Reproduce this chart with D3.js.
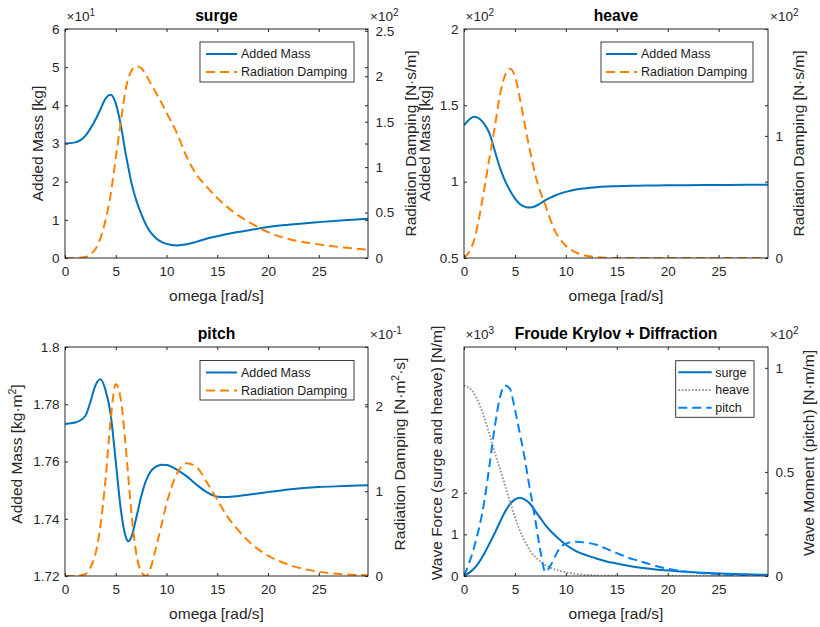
<!DOCTYPE html>
<html>
<head>
<meta charset="utf-8">
<script src="https://cdn.jsdelivr.net/npm/d3@7"></script>
<style>
  html, body { margin: 0; padding: 0; background: #fff; }
  svg { display: block; font-family: "Liberation Sans", Arial, Helvetica, sans-serif; }
</style>
</head>
<body>
<svg id="fig" width="820" height="627"></svg>
<script>
// ---------------------------------------------------------------------------
// Frequency grid [rad/s] shared by every series
const omega = [0, 1, 2, 2.5, 3, 3.5, 4, 4.5, 5, 5.5, 6, 6.25, 6.5, 7, 7.5, 8, 8.5, 9, 9.5, 10,
               11, 12, 13, 14, 15, 16, 17, 18, 20, 22, 25, 27.5, 29.85];

// Surge: added mass [x10 kg], radiation damping [x100 N·s/m]
const surgeAddedMass = [3.00, 3.03, 3.20, 3.39, 3.62, 3.90, 4.18, 4.28, 4.05, 3.48, 2.70, 2.36, 2.02, 1.53, 1.16, 0.86, 0.65, 0.51, 0.42, 0.37,
                        0.33, 0.36, 0.43, 0.51, 0.57, 0.63, 0.68, 0.72, 0.81, 0.87, 0.94, 0.99, 1.03];
const surgeDamping   = [0, 0, 0.01, 0.04, 0.10, 0.22, 0.42, 0.70, 1.10, 1.50, 1.87, 1.98, 2.05, 2.11, 2.09, 2.01, 1.91, 1.81, 1.71, 1.60,
                        1.38, 1.11, 0.91, 0.78, 0.66, 0.56, 0.475, 0.405, 0.285, 0.21, 0.15, 0.115, 0.093];

// Heave: added mass [x100 kg], radiation damping [x100 N·s/m]
const heaveAddedMass = [1.369, 1.425, 1.377, 1.316, 1.207, 1.097, 1.010, 0.944, 0.890, 0.852, 0.835, 0.831, 0.830, 0.839, 0.857, 0.879, 0.896, 0.911, 0.923, 0.933,
                        0.949, 0.957, 0.964, 0.968, 0.970, 0.972, 0.974, 0.975, 0.976, 0.977, 0.978, 0.979, 0.979];
const heaveDamping   = [0, 0.15, 0.57, 0.82, 1.06, 1.32, 1.49, 1.55, 1.49, 1.30, 1.08, 0.97, 0.87, 0.68, 0.54, 0.43, 0.31, 0.21, 0.15, 0.10,
                        0.045, 0.018, 0.007, 0.002, 0, 0, 0, 0, 0, 0, 0, 0, 0];

// Pitch: added mass [kg·m²], radiation damping [x0.1 N·m²·s]
const pitchAddedMass = [1.7731, 1.7736, 1.7759, 1.7808, 1.7866, 1.7887, 1.7848, 1.7765, 1.7600, 1.7432, 1.7335, 1.7321, 1.7333, 1.7400, 1.7477, 1.7535, 1.7568, 1.7583, 1.7589, 1.7588,
                        1.7572, 1.7548, 1.7518, 1.7492, 1.7477, 1.7476, 1.7479, 1.7484, 1.7493, 1.7502, 1.7511, 1.7514, 1.7517];
const pitchDamping   = [0, 0, 0.02, 0.10, 0.26, 0.60, 1.15, 1.85, 2.26, 2.08, 1.50, 1.15, 0.80, 0.28, 0.05, 0, 0.12, 0.35, 0.60, 0.85,
                        1.20, 1.33, 1.28, 1.10, 0.90, 0.70, 0.55, 0.42, 0.24, 0.135, 0.05, 0.02, 0.008];

// Froude Krylov + diffraction: wave force [x1000 N/m], wave moment [x100 N·m/m]
const fkSurge = [0, 0.18, 0.54, 0.78, 1.02, 1.28, 1.53, 1.72, 1.84, 1.88, 1.83, 1.79, 1.73, 1.56, 1.39, 1.22, 1.08, 0.96, 0.85, 0.75,
                 0.60, 0.50, 0.42, 0.35, 0.30, 0.25, 0.21, 0.18, 0.13, 0.095, 0.06, 0.04, 0.03];
const fkHeave = [4.58, 4.38, 3.80, 3.40, 2.98, 2.60, 2.20, 1.80, 1.42, 1.08, 0.82, 0.71, 0.60, 0.46, 0.35, 0.26, 0.20, 0.15, 0.12, 0.09,
                 0.05, 0.025, 0.012, 0.006, 0.003, 0.001, 0, 0, 0, 0, 0, 0, 0];
const fkPitch = [0, 0.14, 0.36, 0.53, 0.71, 0.85, 0.915, 0.90, 0.80, 0.68, 0.555, 0.48, 0.41, 0.27, 0.12, 0.02, 0.05, 0.10, 0.14, 0.155,
                 0.165, 0.16, 0.15, 0.13, 0.11, 0.09, 0.075, 0.06, 0.035, 0.02, 0.009, 0.005, 0.003];

// Axis ticks
const xTicks = [0, 5, 10, 15, 20, 25];
const surgeLeftTicks  = [0, 1, 2, 3, 4, 5, 6];
const surgeRightTicks = [0, 0.5, 1, 1.5, 2, 2.5];
const heaveLeftTicks  = [0.5, 1, 1.5, 2];
const heaveRightTicks = [0, 1];
const pitchLeftTicks  = [1.72, 1.74, 1.76, 1.78, 1.8];
const pitchRightTicks = [0, 1, 2];
const fkLeftTicks     = [0, 1, 2];
const fkRightTicks    = [0, 0.5, 1];

// ---------------------------------------------------------------------------
const svg = d3.select('#fig');
const AX = '#262626';
const C_BLUE = '#0072BD', C_ORANGE = '#FF8000', C_LIGHTBLUE = '#0080FF', C_GRAY = '#9a9a9a';
const xDomain = [0, 29.85];
const TICK_FS = 13.5;

const styles = {
  solid:  { dash: null,      width: 2 },
  dashed: { dash: '9,5',     width: 2 },
  dotted: { dash: '1.7,1.7', width: 2 }
};

let clipId = 0;

function superText(sel, parts, baseSize, supSize) {
  // parts: [[text, isSuper], ...]
  parts.forEach(([t, sup], i) => {
    const prevSup = i > 0 && parts[i - 1][1];
    const ts = sel.append('tspan').text(t);
    if (sup) ts.attr('font-size', supSize).attr('dy', -baseSize * 0.38);
    else if (prevSup) ts.attr('dy', baseSize * 0.38);
  });
}

function drawPanel(p) {
  const g = svg.append('g');
  const x = d3.scaleLinear().domain(xDomain).range([p.x0, p.x1]);
  const yL = d3.scaleLinear().domain(p.left.domain).range([p.y1, p.y0]);
  const yR = d3.scaleLinear().domain(p.right.domain).range([p.y1, p.y0]);

  const id = 'clip' + (clipId++);
  svg.append('clipPath').attr('id', id)
    .append('rect').attr('x', p.x0).attr('y', p.y0)
    .attr('width', p.x1 - p.x0).attr('height', p.y1 - p.y0);

  // white plot area
  g.append('rect').attr('x', p.x0).attr('y', p.y0)
    .attr('width', p.x1 - p.x0).attr('height', p.y1 - p.y0).attr('fill', '#fff');

  const lines = g.append('g').attr('clip-path', `url(#${id})`);
  p.series.forEach(s => {
    const ys = s.axis === 'L' ? yL : yR;
    const line = d3.line().x((d, i) => x(omega[i])).y(d => ys(d)).curve(d3.curveMonotoneX);
    const st = styles[s.style];
    lines.append('path').datum(s.values)
      .attr('d', line).attr('fill', 'none')
      .attr('stroke', s.color).attr('stroke-width', st.width)
      .attr('stroke-dasharray', st.dash)
      .attr('stroke-linejoin', 'round');
  });

  const styleAxis = a => {
    a.select('.domain').remove();
    a.selectAll('.tick line').attr('stroke', AX).attr('stroke-width', 1);
    a.selectAll('.tick text').attr('fill', AX).attr('font-size', TICK_FS)
      .attr('font-family', '"Liberation Sans", Arial, sans-serif');
    a.attr('font-family', null).attr('font-size', null);
  };

  // bottom x axis and mirrored top ticks
  g.append('g').attr('transform', `translate(0,${p.y1})`)
    .call(d3.axisBottom(x).tickValues(xTicks).tickSize(-3).tickSizeOuter(0).tickPadding(8).tickFormat(d => String(d)))
    .call(styleAxis);
  g.append('g').attr('transform', `translate(0,${p.y0})`)
    .call(d3.axisTop(x).tickValues(xTicks).tickSize(-3).tickSizeOuter(0).tickFormat(''))
    .call(styleAxis);

  // left axis, its mirrored ticks on the right edge, and right axis
  g.append('g').attr('transform', `translate(${p.x0},0)`)
    .call(d3.axisLeft(yL).tickValues(p.left.ticks).tickSize(-3).tickSizeOuter(0).tickPadding(5.5).tickFormat(d => String(d)))
    .call(styleAxis);
  g.append('g').attr('transform', `translate(${p.x1},0)`)
    .call(d3.axisRight(yL).tickValues(p.left.ticks).tickSize(-3).tickSizeOuter(0).tickFormat(''))
    .call(styleAxis);
  g.append('g').attr('transform', `translate(${p.x1},0)`)
    .call(d3.axisRight(yR).tickValues(p.right.ticks).tickSize(-3).tickSizeOuter(0).tickPadding(7.5).tickFormat(d => String(d)))
    .call(styleAxis);

  // box
  g.append('rect').attr('x', p.x0).attr('y', p.y0)
    .attr('width', p.x1 - p.x0).attr('height', p.y1 - p.y0)
    .attr('fill', 'none').attr('stroke', AX).attr('stroke-width', 1);

  // exponent multipliers
  const expo = (xx, txt) => {
    const t = g.append('text').attr('x', xx).attr('y', p.y0 - 8)
      .attr('font-size', 13.5).attr('fill', AX);
    superText(t, [['\u00d710', false], [txt, true]], 13.5, 10);
  };
  if (p.left.exp) expo(p.x0 + 1.5, p.left.exp);
  if (p.right.exp) expo(p.x1 + 2, p.right.exp);

  // title
  g.append('text').attr('x', (p.x0 + p.x1) / 2).attr('y', p.y0 - 8.5)
    .attr('text-anchor', 'middle').attr('font-weight', 'bold')
    .attr('font-size', 15.7).attr('fill', '#000').text(p.title);

  // x label
  g.append('text').attr('x', (p.x0 + p.x1) / 2).attr('y', p.y1 + 43)
    .attr('text-anchor', 'middle').attr('font-size', 15.5).attr('fill', AX)
    .text('omega [rad/s]');

  // y labels
  const ylab = (bx, parts) => {
    const t = g.append('text')
      .attr('transform', `translate(${bx},${p.labelCy}) rotate(-90)`)
      .attr('text-anchor', 'middle').attr('font-size', 15.5).attr('fill', AX);
    superText(t, parts, 15.5, 10.5);
  };
  ylab(p.x0 - p.left.labelOffset, p.left.label);
  ylab(p.x1 + p.right.labelOffset, p.right.label);

  // legend
  const L = p.legend;
  const lg = g.append('g');
  lg.append('rect').attr('x', p.x0 + L.dx).attr('y', p.y0 + L.dy)
    .attr('width', L.w).attr('height', L.h)
    .attr('fill', '#fff').attr('stroke', AX).attr('stroke-width', 0.9);
  L.items.forEach((it, i) => {
    const s = p.series[it.series];
    const st = styles[s.style];
    const cy = p.y0 + L.dy + L.row0 + i * L.rowStep;
    lg.append('line')
      .attr('x1', p.x0 + L.dx + L.line0).attr('x2', p.x0 + L.dx + L.line1)
      .attr('y1', cy).attr('y2', cy)
      .attr('stroke', s.color).attr('stroke-width', st.width)
      .attr('stroke-dasharray', st.dash);
    lg.append('text').attr('x', p.x0 + L.dx + L.text0).attr('y', cy + 4.4)
      .attr('font-size', 12.5).attr('fill', '#1a1a1a').text(it.label);
  });
}

// ---------------------------------------------------------------------------
drawPanel({
  title: 'surge', x0: 65, x1: 368, y0: 29, y1: 258, labelCy: 143.5,
  left:  { domain: [0, 6], ticks: surgeLeftTicks, exp: '1', labelOffset: 22.5,
           label: [['Added Mass [kg]', false]] },
  right: { domain: [0, 2.52], ticks: surgeRightTicks, exp: '2', labelOffset: 47.5,
           label: [['Radiation Damping [N\u00b7s/m]', false]] },
  series: [
    { values: surgeAddedMass, axis: 'L', color: C_BLUE, style: 'solid' },
    { values: surgeDamping, axis: 'R', color: C_ORANGE, style: 'dashed' }
  ],
  legend: { dx: 135, dy: 13, w: 154, h: 40, row0: 12, rowStep: 18, line0: 6, line1: 37, text0: 41,
            items: [{ series: 0, label: 'Added Mass' }, { series: 1, label: 'Radiation Damping' }] }
});

drawPanel({
  title: 'heave', x0: 464, x1: 768, y0: 29, y1: 258, labelCy: 143.5,
  left:  { domain: [0.5, 2], ticks: heaveLeftTicks, exp: '2', labelOffset: 34,
           label: [['Added Mass [kg]', false]] },
  right: { domain: [0, 1.875], ticks: heaveRightTicks, exp: '2', labelOffset: 36,
           label: [['Radiation Damping [N\u00b7s/m]', false]] },
  series: [
    { values: heaveAddedMass, axis: 'L', color: C_BLUE, style: 'solid' },
    { values: heaveDamping, axis: 'R', color: C_ORANGE, style: 'dashed' }
  ],
  legend: { dx: 137, dy: 13, w: 152, h: 40, row0: 12, rowStep: 18, line0: 5, line1: 36, text0: 40,
            items: [{ series: 0, label: 'Added Mass' }, { series: 1, label: 'Radiation Damping' }] }
});

drawPanel({
  title: 'pitch', x0: 65, x1: 368, y0: 347, y1: 576, labelCy: 454,
  left:  { domain: [1.72, 1.80], ticks: pitchLeftTicks, exp: null, labelOffset: 43,
           label: [['Added Mass [kg\u00b7m', false], ['2', true], [']', false]] },
  right: { domain: [0, 2.7], ticks: pitchRightTicks, exp: '-1', labelOffset: 37,
           label: [['Radiation Damping [N\u00b7m', false], ['2', true], ['\u00b7s]', false]] },
  series: [
    { values: pitchAddedMass, axis: 'L', color: C_BLUE, style: 'solid' },
    { values: pitchDamping, axis: 'R', color: C_ORANGE, style: 'dashed' }
  ],
  legend: { dx: 135, dy: 13.5, w: 154, h: 39.5, row0: 12, rowStep: 18, line0: 6, line1: 37, text0: 41,
            items: [{ series: 0, label: 'Added Mass' }, { series: 1, label: 'Radiation Damping' }] }
});

drawPanel({
  title: 'Froude Krylov + Diffraction', x0: 464, x1: 768, y0: 347, y1: 576, labelCy: 453,
  left:  { domain: [0, 5.5], ticks: fkLeftTicks, exp: '3', labelOffset: 22,
           label: [['Wave Force (surge and heave) [N/m]', false]] },
  right: { domain: [0, 1.1], ticks: fkRightTicks, exp: '2', labelOffset: 46,
           label: [['Wave Moment (pitch) [N\u00b7m/m]', false]] },
  series: [
    { values: fkSurge, axis: 'L', color: C_BLUE, style: 'solid' },
    { values: fkHeave, axis: 'L', color: C_GRAY, style: 'dotted' },
    { values: fkPitch, axis: 'R', color: C_LIGHTBLUE, style: 'dashed' }
  ],
  legend: { dx: 211.7, dy: 13.7, w: 78.3, h: 56.6, row0: 11.6, rowStep: 17.7, line0: 2.6, line1: 36, text0: 39.5,
            items: [{ series: 0, label: 'surge' }, { series: 1, label: 'heave' }, { series: 2, label: 'pitch' }] }
});
</script>
</body>
</html>
